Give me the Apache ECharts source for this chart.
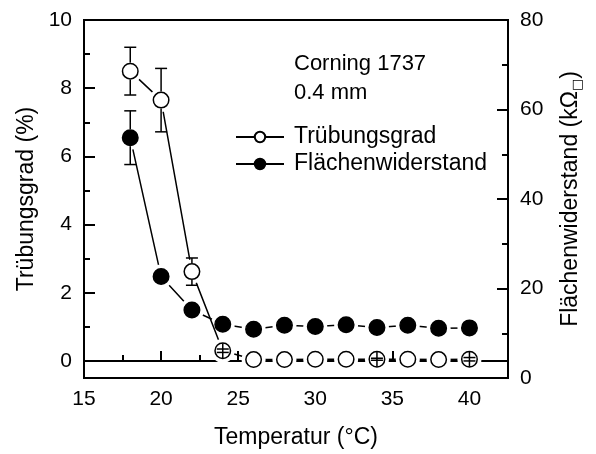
<!DOCTYPE html>
<html>
<head>
<meta charset="utf-8">
<script src="https://cdn.jsdelivr.net/npm/echarts@6/dist/echarts.min.js"></script>
<style>
  html, body { margin: 0; padding: 0; background: #fff; }
  #chart { width: 596px; height: 454px; }
</style>
</head>
<body>
<div id="chart"></div>
<script>
// Werte
let temperatur = [18, 20, 22, 24, 26, 28, 30, 32, 34, 36, 38, 40];
let truebung = [8.5, 7.65, 2.62, 0.3, 0.04, 0.04, 0.05, 0.05, 0.05, 0.05, 0.04, 0.05];
let truebungFehler = [0.7, 0.93, 0.4, 0.05, 0, 0, 0, 0, 0.03, 0, 0, 0.05];
let flaeche = [53.7, 22.7, 15.2, 12.0, 10.9, 11.8, 11.5, 11.9, 11.3, 11.8, 11.1, 11.2];
let flaecheFehler = [6, 0, 0, 0, 0, 0, 0, 0, 0, 0, 0, 0];
let leftMajor = [0, 2, 4, 6, 8, 10];
let leftMinor = [1, 3, 5, 7, 9];

let FONT = 'Liberation Sans';
let SYM = 15.5;
let TICKFONT = 21;
let TEXTFONT = 23;

function pairs(ys) {
    return temperatur.map(function (t, i) { return [t, ys[i]]; });
}
function errPairs(ys, es) {
    return temperatur.map(function (t, i) { return [t, ys[i], es[i]]; });
}

// Fehlerbalken wie in Origin: ausserhalb vom Symbol, bei kleinen Fehlern innen
function errorBar(params, api) {
    let x = api.value(0), y = api.value(1), e = api.value(2);
    if (!e) return;
    let c = api.coord([x, y]);
    let top = api.coord([x, y + e]);
    let bot = api.coord([x, y - e]);
    let r = SYM / 2 + 0.75;
    let half = 6;
    let st = {stroke: '#000', lineWidth: 1.5};
    let kids = [];
    if (c[1] - top[1] > r) {
        kids.push({type: 'line', shape: {x1: c[0], y1: c[1] - r, x2: c[0], y2: top[1]}, style: st});
        kids.push({type: 'line', shape: {x1: c[0], y1: bot[1], x2: c[0], y2: c[1] + r}, style: st});
    } else {
        kids.push({type: 'line', shape: {x1: c[0], y1: c[1] - r + 1, x2: c[0], y2: c[1] + r - 1}, style: st});
    }
    kids.push({type: 'line', shape: {x1: c[0] - half, y1: top[1], x2: c[0] + half, y2: top[1]}, style: st});
    kids.push({type: 'line', shape: {x1: c[0] - half, y1: bot[1], x2: c[0] + half, y2: bot[1]}, style: st});
    return {type: 'group', children: kids};
}

let myChart = echarts.init(document.getElementById('chart'), null, {renderer: 'canvas'});
let axisLine = {show: true, lineStyle: {color: '#000', width: 2}};
let option = {
    animation: false,
    textStyle: {fontFamily: FONT, color: '#000'},
    title: {
        text: 'Corning 1737\n0.4 mm',
        left: 289,
        top: 44,
        textStyle: {fontFamily: FONT, fontSize: 22, fontWeight: 'normal', color: '#000', lineHeight: 29}
    },
    legend: {
        orient: 'vertical',
        left: 230,
        top: 120,
        itemWidth: 48,
        itemHeight: 13,
        itemGap: 3,
        data: ['Trübungsgrad', 'Flächenwiderstand'],
        textStyle: {fontFamily: FONT, fontSize: TEXTFONT, color: '#000', lineHeight: 24, padding: [0, 0, 0, 5]}
    },
    grid: {
        left: 84, right: 88, top: 20, bottom: 76,
        show: true, borderColor: '#000', borderWidth: 2, backgroundColor: 'transparent'
    },
    xAxis: {
        type: 'value',
        min: 15,
        max: 42.5,
        interval: 5,
        name: 'Temperatur (°C)',
        nameLocation: 'middle',
        nameGap: 48,
        nameTextStyle: {fontFamily: FONT, fontSize: TEXTFONT, color: '#000'},
        axisLine: axisLine,
        axisTick: {inside: true, length: 10, lineStyle: {color: '#000', width: 2}},
        minorTick: {show: true, splitNumber: 2, length: 6, lineStyle: {color: '#000', width: 2}},
        splitLine: {show: false},
        axisLabel: {
            fontFamily: FONT, fontSize: TICKFONT, color: '#000', margin: 11,
            formatter: function (v) { return v % 5 === 0 && v <= 40 ? String(v) : ''; }
        }
    },
    yAxis: [
        {
            type: 'value',
            min: -0.5,
            max: 10,
            position: 'left',
            name: 'Trübungsgrad (%)',
            nameLocation: 'middle',
            nameRotate: 90,
            nameGap: 44,
            nameTextStyle: {fontFamily: FONT, fontSize: TEXTFONT, color: '#000'},
            axisLine: axisLine,
            axisTick: {inside: true, length: 11, customValues: leftMajor, lineStyle: {color: '#000', width: 2}},
            splitLine: {show: false},
            axisLabel: {fontFamily: FONT, fontSize: TICKFONT, color: '#000', margin: 12, customValues: leftMajor}
        },
        {
            type: 'value',
            min: -0.5,
            max: 10,
            position: 'left',
            axisLine: {show: false},
            axisTick: {inside: true, length: 6, customValues: leftMinor, lineStyle: {color: '#000', width: 2}},
            splitLine: {show: false},
            axisLabel: {show: false, customValues: leftMinor}
        },
        {
            type: 'value',
            min: 0,
            max: 80,
            interval: 20,
            position: 'right',
            name: 'Flächenwiderstand (kΩ{sub|□})',
            nameLocation: 'middle',
            nameRotate: 90,
            nameGap: 49,
            nameTextStyle: {
                fontFamily: FONT, fontSize: TEXTFONT, color: '#000',
                rich: {sub: {fontFamily: 'DejaVu Sans', fontSize: 13, color: '#000', verticalAlign: 'bottom', padding: [14, 0, 0, 0]}}
            },
            axisLine: axisLine,
            axisTick: {inside: true, length: 11, lineStyle: {color: '#000', width: 2}},
            minorTick: {show: true, splitNumber: 2, length: 6, lineStyle: {color: '#000', width: 2}},
            splitLine: {show: false},
            axisLabel: {fontFamily: FONT, fontSize: TICKFONT, color: '#000', margin: 12}
        }
    ],
    series: [
        {
            name: 'Flächenwiderstand',
            type: 'line',
            yAxisIndex: 2,
            data: pairs(flaeche),
            symbol: 'circle',
            symbolSize: SYM,
            lineStyle: {color: '#000', width: 1.5},
            itemStyle: {color: '#000', borderColor: '#000', borderWidth: 1.5},
            z: 1
        },
        {
            type: 'scatter', yAxisIndex: 2, silent: true,
            data: pairs(flaeche), symbolSize: 24,
            itemStyle: {color: '#fff', opacity: 1}, z: 2
        },
        {
            name: 'Trübungsgrad',
            type: 'line',
            yAxisIndex: 0,
            data: pairs(truebung),
            symbol: 'circle',
            symbolSize: SYM,
            lineStyle: {color: '#000', width: 1.5},
            itemStyle: {color: '#fff', borderColor: '#000', borderWidth: 1.5},
            z: 3
        },
        {
            type: 'scatter', yAxisIndex: 0, silent: true,
            data: pairs(truebung), symbolSize: 24,
            itemStyle: {color: '#fff', opacity: 1}, z: 4
        },
        {
            type: 'scatter', yAxisIndex: 2, silent: true,
            data: pairs(flaeche), symbolSize: SYM,
            itemStyle: {color: '#000', borderColor: '#000', borderWidth: 1.5, opacity: 1}, z: 6
        },
        {
            type: 'scatter', yAxisIndex: 0, silent: true,
            data: pairs(truebung), symbolSize: SYM,
            itemStyle: {color: '#fff', borderColor: '#000', borderWidth: 1.5, opacity: 1}, z: 6
        },
        {
            type: 'custom', yAxisIndex: 0, silent: true,
            data: errPairs(truebung, truebungFehler),
            renderItem: errorBar, z: 7
        },
        {
            type: 'custom', yAxisIndex: 2, silent: true,
            data: errPairs(flaeche, flaecheFehler),
            renderItem: errorBar, z: 7
        }
    ]
};
myChart.setOption(option);
</script>
</body>
</html>
